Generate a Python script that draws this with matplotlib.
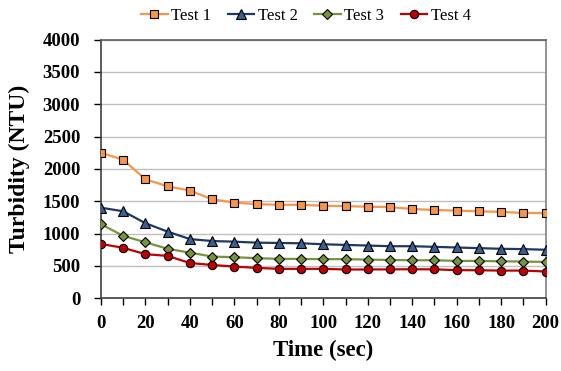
import matplotlib.pyplot as plt
from matplotlib.ticker import MultipleLocator

# temps en secondes
time_sec = [0, 10, 20, 30, 40, 50, 60, 70, 80, 90, 100,
            110, 120, 130, 140, 150, 160, 170, 180, 190, 200]

# turbidité (NTU)
test1 = [2250, 2140, 1840, 1730, 1665, 1530, 1480, 1455, 1445, 1445, 1430,
         1425, 1415, 1410, 1380, 1365, 1355, 1345, 1335, 1320, 1315]
test2 = [1400, 1345, 1160, 1030, 915, 885, 875, 860, 855, 850, 835,
         825, 815, 805, 805, 795, 785, 775, 765, 760, 750]
test3 = [1145, 965, 865, 765, 705, 645, 635, 620, 610, 608, 605,
         605, 598, 592, 588, 588, 578, 577, 572, 567, 562]
test4 = [840, 780, 682, 655, 545, 515, 490, 470, 455, 455, 455,
         445, 445, 447, 449, 447, 435, 433, 428, 428, 414]

plt.rcParams['font.family'] = 'Liberation Serif'
plt.rcParams['font.weight'] = 'bold'

fig = plt.figure(figsize=(5.61, 3.71), dpi=100)
ax = fig.add_axes([0.18, 0.196, 0.7925, 0.6975])

ax.plot(time_sec, test1, color='#F79646', lw=1.6, marker='s', ms=6,
        mfc='#F79646', mec='black', mew=0.8, label='Test 1', zorder=3)
ax.plot(time_sec, test2, color='#1F3864', lw=1.6, marker='^', ms=7,
        mfc='#376092', mec='black', mew=0.8, label='Test 2', zorder=3)
ax.plot(time_sec, test3, color='#77933C', lw=1.6, marker='D', ms=5,
        mfc='#77933C', mec='black', mew=0.8, label='Test 3', zorder=3)
ax.plot(time_sec, test4, color='#C00000', lw=1.6, marker='o', ms=6,
        mfc='#C00000', mec='black', mew=0.8, label='Test 4', zorder=3)

ax.set_xlim(0, 200)
ax.set_ylim(0, 4000)
ax.xaxis.set_major_locator(MultipleLocator(20))
ax.xaxis.set_minor_locator(MultipleLocator(10))
ax.yaxis.set_major_locator(MultipleLocator(500))
ax.grid(axis='y', color='#BFBFBF', lw=1.0, zorder=0)

ax.tick_params(axis='both', which='both', direction='out', length=5,
               width=1, colors='black', labelsize=13.5)
ax.tick_params(axis='x', pad=7)
ax.tick_params(axis='y', pad=10)

ax.spines['left'].set_color('#404040')
ax.spines['bottom'].set_color('#404040')
ax.spines['top'].set_color('#606060')
ax.spines['right'].set_color('#808080')
for s in ax.spines.values():
    s.set_linewidth(1.2)

ax.set_xlabel('Time (sec)', fontsize=16.5, fontweight='bold', labelpad=6)
ax.set_ylabel('Turbidity (NTU)', fontsize=17, fontweight='bold', labelpad=9)

fig.legend(loc='upper center', bbox_to_anchor=(0.545, 1.02), ncol=4,
           frameon=False, prop={'size': 12, 'weight': 'normal'},
           handlelength=1.6, handletextpad=0.2, columnspacing=1.0)

fig.savefig('out.png', dpi=100)
